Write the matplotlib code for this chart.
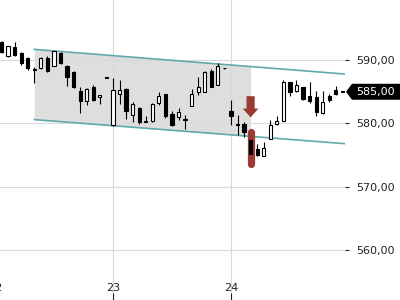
import numpy as np
import matplotlib.pyplot as plt
from matplotlib.patches import Polygon
from matplotlib.transforms import IdentityTransform

# 20-minute candles, 18 per trading day
opens = [592.8, 590.6, 592.1, 591.2, 590.4, 588.5, 588.7, 590.4, 589.1, 591.2,
         589.1, 588.2, 585.1, 583.5, 585.7, 584.1, 587.3, 579.7, 584.6, 585.4,
         581.4, 582.5, 580.3, 580.4, 583.3, 584.6, 581.5, 581.0, 580.7, 582.8,
         584.9, 585.0, 588.3, 586.1, 588.7, 582.0, 579.9, 579.9, 577.4, 575.9,
         574.85, 577.6, 579.85, 580.45, 586.5, 585.1, 585.7, 584.4, 584.1, 581.6,
         584.4, 585.3, 585.0]
highs = [593.0, 592.3, 592.8, 591.3, 590.5, 588.9, 590.5, 590.6, 591.5, 591.3,
         589.2, 588.3, 585.7, 585.6, 586.1, 584.5, 587.3, 587.2, 586.8, 585.6,
         583.4, 582.6, 581.1, 583.2, 585.0, 584.7, 582.0, 582.5, 581.3, 585.5,
         587.4, 588.3, 588.6, 589.6, 588.75, 583.7, 581.3, 580.2, 577.6, 576.8,
         577.0, 580.5, 581.2, 586.8, 586.6, 586.9, 585.8, 586.5, 585.1, 585.2,
         584.7, 585.9, 585.0]
lows = [591.1, 590.5, 590.7, 589.2, 588.4, 586.4, 588.6, 588.2, 589.0, 589.4,
        585.9, 585.6, 581.6, 582.9, 583.6, 583.1, 587.2, 579.6, 583.1, 580.7,
        580.2, 579.9, 580.2, 580.3, 582.9, 580.9, 579.6, 580.6, 579.1, 582.7,
        584.5, 584.9, 585.7, 586.0, 588.65, 579.7, 578.2, 577.8, 574.9, 574.8,
        574.8, 577.5, 579.8, 580.4, 584.3, 585.0, 583.7, 583.3, 581.1, 581.5,
        583.4, 584.5, 585.0]
closes = [591.3, 592.2, 590.8, 589.6, 588.8, 588.4, 590.4, 588.3, 591.4, 589.5,
          587.4, 585.8, 583.5, 585.5, 583.7, 584.5, 587.2, 585.3, 585.3, 581.9,
          583.1, 580.2, 580.35, 583.1, 584.4, 581.1, 579.7, 581.8, 580.6, 584.6,
          585.7, 588.2, 585.8, 589.1, 588.7, 581.2, 579.8, 578.6, 575.2, 575.05,
          576.1, 579.7, 580.4, 586.6, 584.9, 586.05, 583.8, 583.5, 581.8, 583.4,
          583.7, 584.6, 585.0]

day_pos = [-1, 17, 35]
day_labels = ['22', '23', '24']
price_ticks = [560, 570, 580, 590]
last_price = 585.00

# trend channel
chan_x = [5, 53]
chan_top = [591.7, 587.75]
chan_bot = [580.6, 576.75]
shade_end = 38
signal_bar = 38

o = np.array(opens)
h = np.array(highs)
l = np.array(lows)
c = np.array(closes)
x = np.arange(len(o))

fig = plt.figure(figsize=(4, 3), dpi=100)
ax = fig.add_axes([-8.3 / 400, 0, 353.3 / 400, 1])
ax.set_xlim(-1.5, 52.4)
ax.set_ylim(552.1, 599.5)

# shaded channel area + lines
sx = np.array([chan_x[0], shade_end])
ax.fill_between(sx, np.interp(sx, chan_x, chan_bot), np.interp(sx, chan_x, chan_top),
                color='#dedede', lw=0, zorder=0.3)
ax.plot(chan_x, chan_top, color='#62a9aa', lw=1.2, zorder=2)
ax.plot(chan_x, chan_bot, color='#62a9aa', lw=1.2, zorder=2)

# signal highlight
sig_lo, sig_hi = 573.6, 578.6
ax.plot([signal_bar, signal_bar], [sig_lo, sig_hi], color='#9c3b34', lw=5.2,
        solid_capstyle='round', zorder=3.5)
ax.arrow(signal_bar, 584.3, 0, 580.95 - 584.3, width=1.25, head_width=2.4,
         head_length=1.4, length_includes_head=True, color='#9c3b34', lw=0, zorder=5)

# candles
up = c >= o
ax.vlines(x, l, h, color='black', lw=0.8, zorder=3)
ax.bar(x, np.maximum(np.abs(c - o), 0.12), bottom=np.minimum(o, c), width=0.5,
       color=np.where(up, 'white', 'black'), edgecolor='black', lw=0.8, zorder=4)

for s in ax.spines.values():
    s.set_visible(False)
ax.set_axisbelow(True)
ax.grid(True, color='#d9d9d9', lw=0.8)

ax.yaxis.tick_right()
ax.set_yticks(price_ticks)
ax.set_yticklabels([f"{v:.2f}".replace('.', ',') for v in price_ticks])
ax.tick_params(axis='y', length=3, width=0.8, pad=5, labelsize=8, colors='#222222')
ax.set_xticks(day_pos)
ax.set_xticklabels(day_labels)
ax.tick_params(axis='x', direction='in', length=5, width=0.8, pad=-12, labelsize=8,
               colors='#222222')

# last price tag
yp = ax.transData.transform((0, last_price))[1]
tag = Polygon([(346, yp), (352, yp + 8), (400, yp + 8), (400, yp - 8), (352, yp - 8)],
              closed=True, facecolor='black', edgecolor='none', transform=IdentityTransform())
fig.add_artist(tag)
fig.text(356, yp, f"{last_price:.2f}".replace('.', ','), color='white', fontsize=8,
         va='center', ha='left', transform=IdentityTransform())

plt.savefig("out.png", dpi=100)
